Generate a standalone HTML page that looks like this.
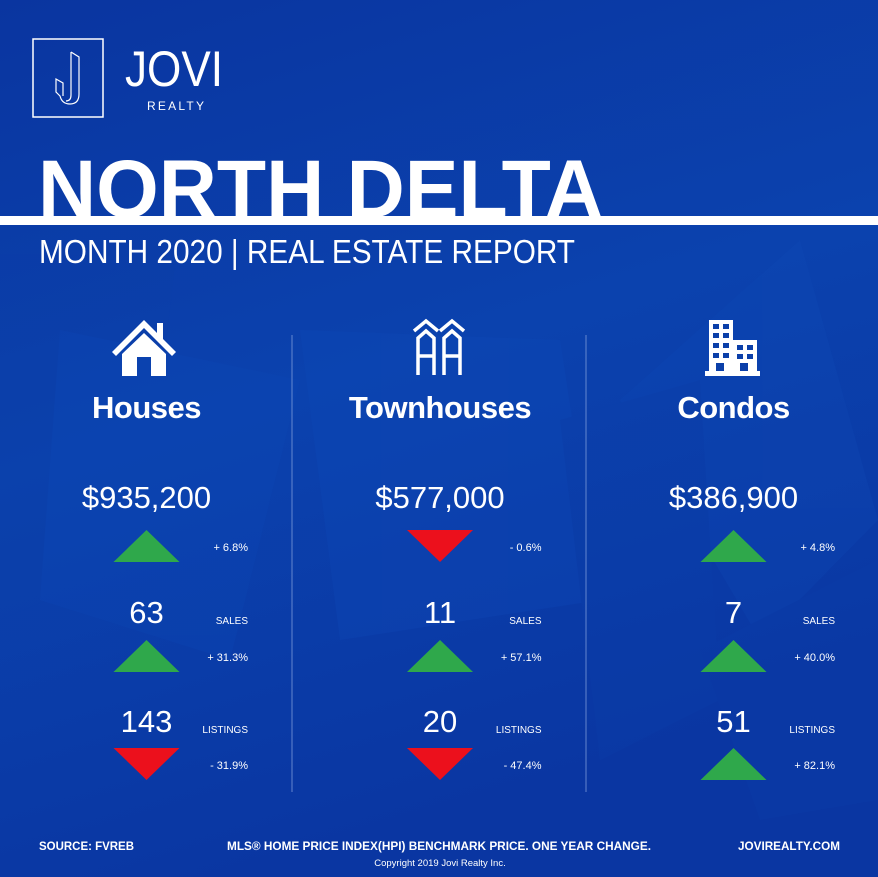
<!DOCTYPE html>
<html><head><meta charset="utf-8"><style>
html,body{margin:0;padding:0;width:878px;height:877px;overflow:hidden;background:#0a37a2}
svg{display:block}
text{font-family:"Liberation Sans",sans-serif;fill:#fff}
</style></head><body>
<svg id="info" width="878" height="877" viewBox="0 0 878 877" xmlns="http://www.w3.org/2000/svg">
<defs>
<linearGradient id="bg" x1="0" y1="0" x2="0.3" y2="1">
<stop offset="0" stop-color="#0a35a0"/><stop offset="0.5" stop-color="#0b42ae"/><stop offset="1" stop-color="#0a36a2"/>
</linearGradient>
</defs>
<rect width="878" height="877" fill="url(#bg)"/>
<g opacity="0.25">
<polygon points="0,225 180,225 140,560 0,620" fill="#0c3fa8"/>
<polygon points="60,330 300,380 230,660 40,600" fill="#0d49b8"/>
<polygon points="300,330 560,340 600,600 340,640" fill="#0e4cbc"/>
<polygon points="620,400 800,240 878,520 760,640" fill="#0e4ab8"/>
<polygon points="560,420 700,380 720,700 600,760" fill="#0c40ab"/>
<polygon points="700,650 878,560 878,800 760,820" fill="#0b3eaa"/>
</g>
<g>
<rect x="33" y="39" width="70" height="78" fill="none" stroke="#fff" stroke-width="1.5"/>
<path d="M71,52 L79,57 L79,94 Q79,104 70,104 Q62,104 60,96 L56,92 L56,79 L63,83 L63,96 M71,52 L71,95 Q71,101 66,101" fill="none" stroke="#fff" stroke-width="1.2"/>
<text x="125" y="86" font-size="50" textLength="98" lengthAdjust="spacingAndGlyphs">JOVI</text>
<text x="147" y="110" font-size="12" textLength="57" lengthAdjust="spacing">REALTY</text>
</g>
<rect x="0" y="216" width="878" height="9" fill="#fff"/>
<text x="38" y="217" font-size="82" font-weight="bold" textLength="565" lengthAdjust="spacingAndGlyphs">NORTH DELTA</text>
<text x="39" y="263" font-size="33" textLength="536" lengthAdjust="spacingAndGlyphs">MONTH 2020 | REAL ESTATE REPORT</text>
<line x1="292" y1="335" x2="292" y2="792" stroke="#8aa6e0" stroke-width="1" opacity="0.7"/>
<line x1="586" y1="335" x2="586" y2="792" stroke="#8aa6e0" stroke-width="1" opacity="0.7"/>
<g fill="#fff">
<polygon points="144,320 112,352 116,356 144,328 172,356 176,352 163,339 163,323 157,323 157,333"/>
<polygon points="144,333 122,354 122,376 137,376 137,357 151,357 151,376 166,376 166,354"/>
</g>
<g fill="none" stroke="#fff" stroke-width="3.5">
<polyline points="414,331 426,321 438,331"/><polyline points="440,331 452,321 464,331"/>
<path d="M418,375 V338 L426,331 L434,338 V375 M418,356 H434"/>
<path d="M444,375 V338 L452,331 L460,338 V375 M444,356 H460"/>
</g>
<g fill="#fff">
<rect x="709" y="320" width="24" height="52"/><rect x="733" y="340" width="24" height="32"/>
<rect x="705" y="371" width="55" height="5"/>
<g fill="#0b3fa9"><rect x="713" y="324" width="6" height="5"/><rect x="723" y="324" width="6" height="5"/><rect x="713" y="333" width="6" height="5"/><rect x="723" y="333" width="6" height="5"/><rect x="713" y="343" width="6" height="5"/><rect x="723" y="343" width="6" height="5"/><rect x="713" y="353" width="6" height="5"/><rect x="723" y="353" width="6" height="5"/><rect x="737" y="345" width="6" height="5"/><rect x="747" y="345" width="6" height="5"/><rect x="737" y="354" width="6" height="5"/><rect x="747" y="354" width="6" height="5"/><rect x="716" y="363" width="8" height="8"/><rect x="740" y="363" width="8" height="8"/></g>
</g>
<g id="cols"></g>
<text x="39" y="850" font-size="12" font-weight="bold" textLength="95" lengthAdjust="spacingAndGlyphs">SOURCE:  FVREB</text>
<text x="227" y="850" font-size="12" font-weight="bold" textLength="424" lengthAdjust="spacingAndGlyphs">MLS® HOME PRICE INDEX(HPI) BENCHMARK PRICE. ONE YEAR CHANGE.</text>
<text x="738" y="850" font-size="12" font-weight="bold" textLength="102" lengthAdjust="spacingAndGlyphs">JOVIREALTY.COM</text>
<text x="440" y="866" font-size="9.5" text-anchor="middle" fill="#dde4f5">Copyright 2019 Jovi Realty Inc.</text>
</svg>
<script>
const categories = ["Houses", "Townhouses", "Condos"];
const prices = ["$935,200", "$577,000", "$386,900"];
const priceChanges = [6.8, -0.6, 4.8];
const sales = [63, 11, 7];
const salesChanges = [31.3, 57.1, 40.0];
const listings = [143, 20, 51];
const listingsChanges = [-31.9, -47.4, 82.1];

const NS = "http://www.w3.org/2000/svg";
const g = document.getElementById("cols");
function colLeft(i){ return i * 293.5; }
function colCenter(i){ return colLeft(i) + 146.5; }
function mk(tag, attrs, txt){
  const e = document.createElementNS(NS, tag);
  for (const k in attrs) e.setAttribute(k, attrs[k]);
  if (txt !== undefined) e.textContent = txt;
  g.appendChild(e);
  return e;
}
function fmt(v){ return (v < 0 ? "- " : "+ ") + Math.abs(v).toFixed(1) + "%"; }
function tri(i, top, v, name){
  const c = colCenter(i), w = 33, h = 32;
  const pts = v >= 0
    ? `${c-w},${top+h} ${c+w},${top+h} ${c},${top}`
    : `${c-w},${top} ${c+w},${top} ${c},${top+h}`;
  const t = mk("polygon", {points: pts, fill: v >= 0 ? "#2fa84b" : "#ec101c"});
  
  
  const p = mk("text", {x: colLeft(i) + 248, y: top + 21, "font-size": 11, "text-anchor": "end"}, fmt(v));
  
  
}
categories.forEach((cat, i) => {
  const c = colCenter(i);
  const h = mk("text", {x: c, y: 418, "font-size": 31, "font-weight": "bold", "text-anchor": "middle", "letter-spacing": "-0.5"}, cat);
  
  
  const pr = mk("text", {x: c, y: 508, "font-size": 31, "text-anchor": "middle"}, prices[i]);
  
  
  tri(i, 530, priceChanges[i], 'price-change-arrow');
  const s = mk("text", {x: c, y: 623, "font-size": 31, "text-anchor": "middle"}, String(sales[i]));
  
  
  const sl = mk("text", {x: colLeft(i) + 248, y: 624, "font-size": 10, "text-anchor": "end"}, "SALES");
  
  
  tri(i, 640, salesChanges[i], 'sales-change-arrow');
  const l = mk("text", {x: c, y: 732, "font-size": 31, "text-anchor": "middle"}, String(listings[i]));
  
  
  const ll = mk("text", {x: colLeft(i) + 248, y: 733, "font-size": 10, "text-anchor": "end"}, "LISTINGS");
  
  
  tri(i, 748, listingsChanges[i], 'listings-change-arrow');
});
</script>
</body></html>
